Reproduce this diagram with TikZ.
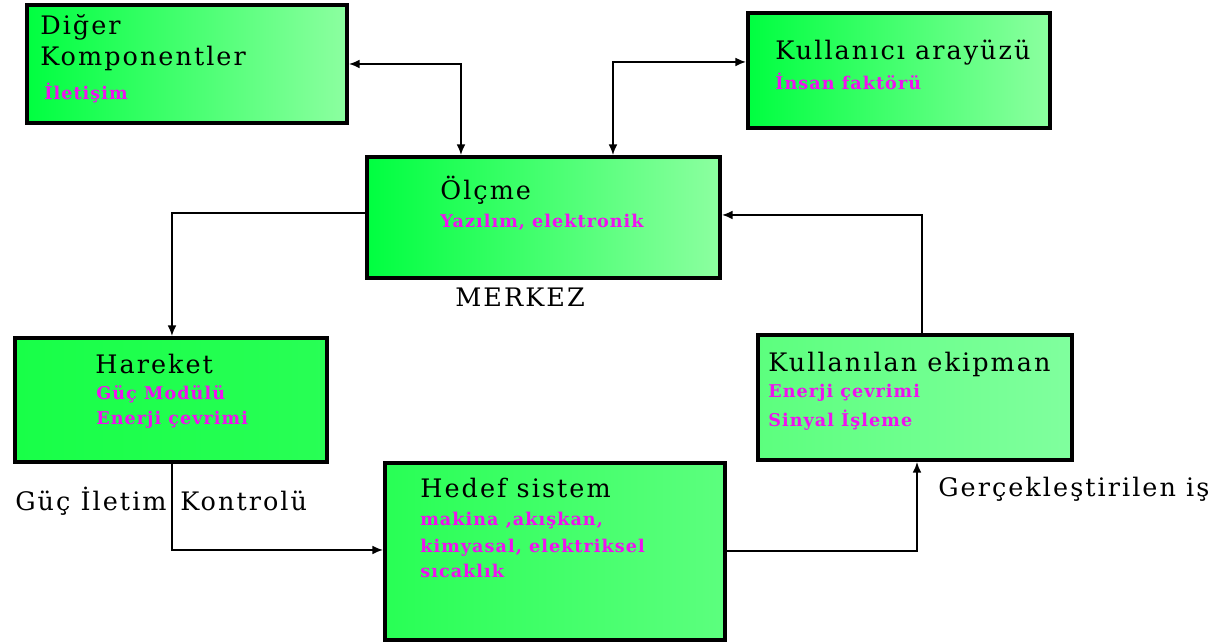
\documentclass[tikz,border=0pt]{standalone}
\usepackage{fontspec}
\setmainfont{DejaVu Serif}
\newfontfamily\baslikyazi[LetterSpace=8]{DejaVu Serif}
\newfontfamily\altyazi[LetterSpace=6]{DejaVu Serif}
\usetikzlibrary{arrows.meta,calc,fit}

\definecolor{yesilA}{HTML}{00FF40}
\definecolor{yesilB}{HTML}{8CFFA0}
\definecolor{yesilC}{HTML}{18FF48}
\definecolor{yesilD}{HTML}{28FF55}
\definecolor{yesilE}{HTML}{5CFF7E}
\definecolor{yesilF}{HTML}{80FF9E}
\definecolor{pembe}{HTML}{F010F0}

\begin{document}
\begin{tikzpicture}[x=0.02cm, y=-0.02cm,
    blok/.style={draw=black, line width=2.3pt, inner sep=0pt},
    baslik/.style={anchor=base west, inner sep=0pt, font=\baslikyazi\fontsize{14.5}{16}\selectfont},
    alt/.style={anchor=base west, inner sep=0pt, text=pembe, font=\altyazi\bfseries\fontsize{10}{12}\selectfont},
    ok/.style={line width=0.9pt, -{Latex[length=6pt,width=5pt]}},
    cift/.style={line width=0.9pt, {Latex[length=6pt,width=5pt]}-{Latex[length=6pt,width=5pt]}}]
    \useasboundingbox (0,0) rectangle (1212,644);

    % kutular
    \node[blok, left color=yesilA, right color=yesilB, fit={(27,5) (347,123)}] (diger) {};
    \node[blok, left color=yesilA, right color=yesilB, fit={(748,13) (1050,128)}] (kullanici) {};
    \node[blok, left color=yesilA, right color=yesilB, fit={(367,157) (720,278)}] (olcme) {};
    \node[blok, left color=yesilC, right color=yesilD, fit={(15,338) (327,462)}] (hareket) {};
    \node[blok, left color=yesilE, right color=yesilF, fit={(758,335) (1072,460)}] (ekipman) {};
    \node[blok, left color=yesilD, right color=yesilE, fit={(385,463) (725,640)}] (hedef) {};

    % yazilar
    \node[baslik] (digerA) at (40,35) {Diğer};
    \node[baslik] (digerB) at (40,66) {Komponentler};
    \node[alt] (digerC) at (44,100) {İletişim};

    \node[baslik] (kullaniciA) at (775,60) {Kullanıcı arayüzü};
    \node[alt] (kullaniciB) at (775,90) {İnsan faktörü};

    \node[baslik] (olcmeA) at (440,200) {Ölçme};
    \node[alt] (olcmeB) at (440,228) {Yazılım, elektronik};
    \node[baslik] (merkez) at (455,307) {MERKEZ};

    \node[baslik] (hareketA) at (95,374) {Hareket};
    \node[alt] (hareketB) at (96,400) {Güç Modülü};
    \node[alt] (hareketC) at (96,425) {Enerji çevrimi};

    \node[baslik] (ekipmanA) at (768,372) {Kullanılan ekipman};
    \node[alt] (ekipmanB) at (768,398) {Enerji çevrimi};
    \node[alt] (ekipmanC) at (768,427) {Sinyal İşleme};

    \node[baslik] (hedefA) at (420,497) {Hedef sistem};
    \node[alt] (hedefB) at (420,525) {makina ,akışkan,};
    \node[alt] (hedefC) at (420,552) {kimyasal, elektriksel};
    \node[alt] (hedefD) at (420,577) {sıcaklık};

    \node[baslik] (iletim) at (15,510) {Güç İletim};
    \node[baslik] (kontrol) at (180,510) {Kontrolü};
    \node[baslik] (is) at (938,496) {Gerçekleştirilen iş};

    % baglantilar
    \draw[cift] (diger.east) -| ($(olcme.north west)+(96,0)$);
    \draw[cift] ($(kullanici.north west)+(0,51)$) -| ($(olcme.north west)+(248,0)$);
    \draw[ok] ($(olcme.north west)+(0,58)$) -| ($(hareket.north west)+(159,0)$);
    \draw[ok] ($(ekipman.north west)+(166,0)$) |- ($(olcme.north east)+(0,60)$);
    \draw[ok] ($(hareket.south west)+(159,0)$) |- ($(hedef.north west)+(0,89)$);
    \draw[ok] ($(hedef.north east)+(0,90)$) -| ($(ekipman.south west)+(161,0)$);
\end{tikzpicture}
\end{document}
